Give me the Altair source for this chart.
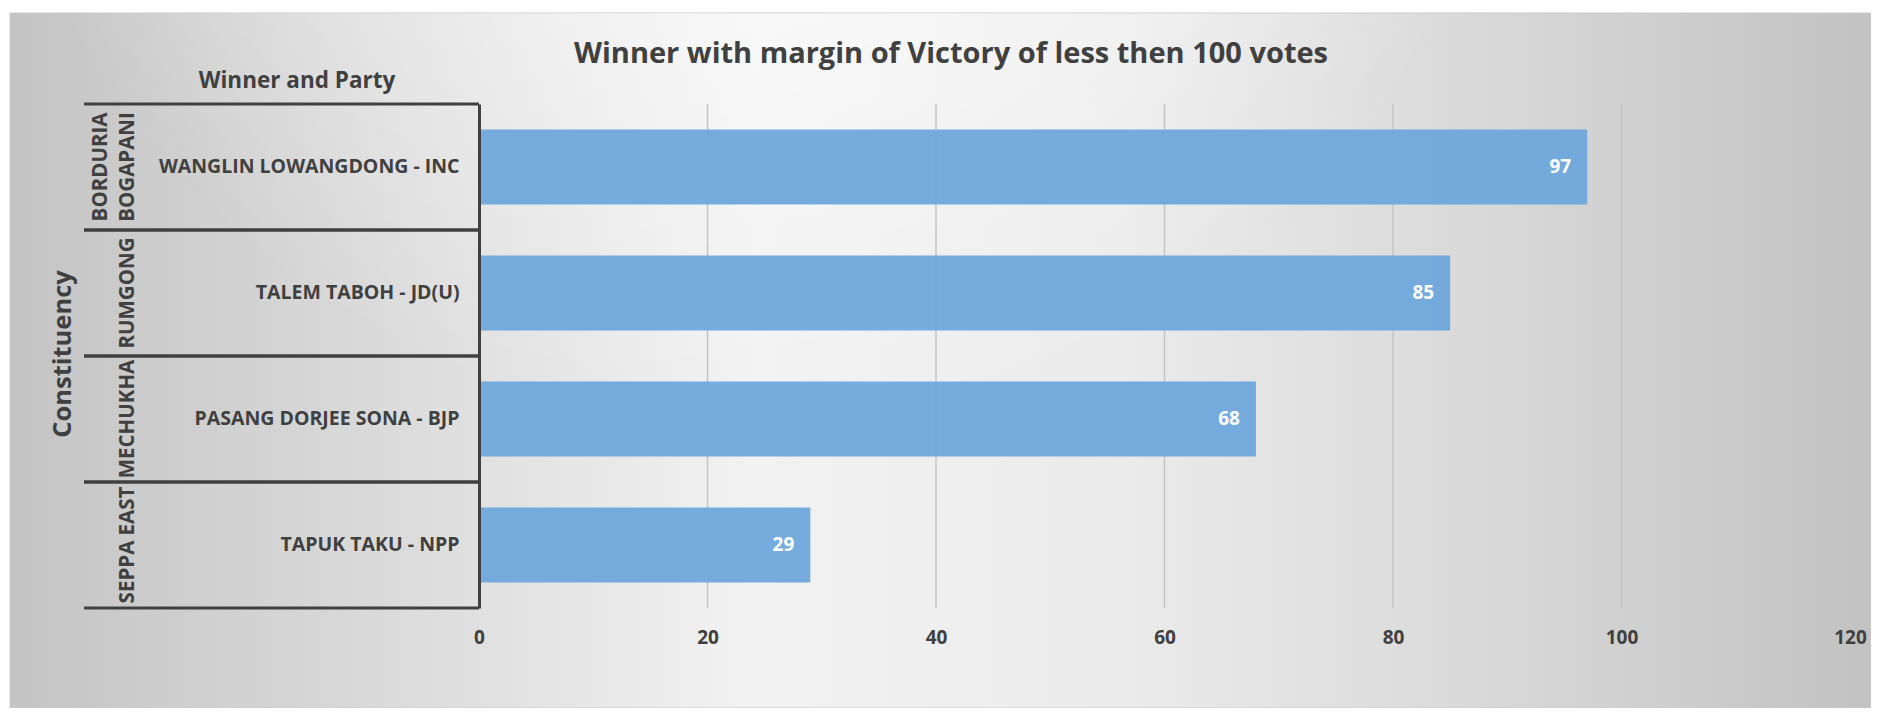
import altair as alt
import pandas as pd

# ---- data ----
constituencies = ["BORDURIA\nBOGAPANI", "RUMGONG", "MECHUKHA", "SEPPA EAST"]
winners = [
    "WANGLIN LOWANGDONG - INC",
    "TALEM TABOH - JD(U)",
    "PASANG DORJEE SONA - BJP",
    "TAPUK TAKU - NPP",
]
margins = [97, 85, 68, 29]
x_ticks = [0, 20, 40, 60, 80, 100, 120]
chart_title = "Winner with margin of Victory of less then 100 votes"
column_header = "Winner and Party"
row_header = "Constituency"

df = pd.DataFrame({"constituency": constituencies, "winner": winners, "margin": margins})
grid_df = pd.DataFrame({"tick": x_ticks[1:]})

FONT = "Open Sans"
DARK = "#404040"
W, H = 1371, 504
PAD = {"left": 471, "top": 96, "right": 21, "bottom": 100}

ysc = alt.Scale(paddingInner=0, paddingOuter=0)
xsc = alt.Scale(domain=[0, 120], nice=False)

y_axis = alt.Axis(
    title=None, domain=True, domainColor=DARK, domainWidth=3, ticks=False,
    labelFont=FONT, labelFontSize=19.5, labelFontWeight="bold", labelColor=DARK,
    labelPadding=20, labelLimit=0, grid=False, zindex=2,
)
x_axis = alt.Axis(
    values=x_ticks, title=None, grid=False,
    domain=False, ticks=False, labelFont=FONT, labelFontSize=19,
    labelFontWeight="bold", labelColor=DARK, labelPadding=29,
    labelBaseline="middle", labelFlush=False, labelOverlap=False,
    format="d", zindex=2,
)

x_enc = alt.X("margin:Q", scale=xsc, axis=x_axis)
y_enc = alt.Y("winner:N", sort=None, scale=ysc, axis=y_axis)

bg_linear = {
    "gradient": "linear", "x1": 0, "y1": 0, "x2": 1, "y2": 0,
    "stops": [
        {"offset": 0.0, "color": "#c4c4c4"},
        {"offset": 0.18, "color": "#d8d8d8"},
        {"offset": 0.4, "color": "#f2f2f2"},
        {"offset": 0.6, "color": "#ebebeb"},
        {"offset": 0.8, "color": "#d8d8d8"},
        {"offset": 1.0, "color": "#c2c2c2"},
    ],
}
bg_glow = {
    "gradient": "radial",
    "x1": 0.4, "y1": 0.12, "r1": 0.0,
    "x2": 0.4, "y2": 0.12, "r2": 0.42,
    "stops": [
        {"offset": 0.0, "color": "rgba(255,255,255,0.85)"},
        {"offset": 0.5, "color": "rgba(255,255,255,0.45)"},
        {"offset": 1.0, "color": "rgba(255,255,255,0)"},
    ],
}

bg_pos = dict(x=alt.value(-469), x2=alt.value(W + 21), y=alt.value(-91), y2=alt.value(H + 100))

bg = alt.Chart(alt.Data(values=[{}])).mark_rect(
    fill=bg_linear, stroke="#c8c8c8", strokeWidth=1
).encode(**bg_pos)
glow = alt.Chart(alt.Data(values=[{}])).mark_rect(fill=bg_glow).encode(**bg_pos)

gridlines = alt.Chart(grid_df).mark_rule(color="#c4c4c4", strokeWidth=1.5).encode(
    x=alt.X("tick:Q", scale=xsc, axis=x_axis), y=alt.value(0), y2=alt.value(H)
)

base = alt.Chart(df)

bars = base.mark_bar(size=75, color="#6fa6db", opacity=0.95).encode(x=x_enc, y=y_enc)

rules_top = base.mark_rule(color=DARK, strokeWidth=3).encode(
    y=alt.Y("winner:N", sort=None, scale=ysc, axis=y_axis, bandPosition=0),
    x=alt.value(-395), x2=alt.value(0),
)
rules_bottom = base.mark_rule(color=DARK, strokeWidth=3).encode(
    y=alt.Y("winner:N", sort=None, scale=ysc, axis=y_axis, bandPosition=1),
    x=alt.value(-395), x2=alt.value(0),
)

value_labels = base.mark_text(
    align="right", baseline="middle", dx=-16, color="white",
    font=FONT, fontSize=19, fontWeight="bold",
).encode(x=x_enc, y=y_enc, text="margin:Q")

const_style = dict(
    angle=270, align="center", baseline="bottom", lineBreak="\n", lineHeight=27.5,
    font=FONT, fontSize=20.5, fontWeight="bold", color=DARK,
)
const_single = base.mark_text(**const_style).encode(
    y=y_enc, x=alt.value(-341), text="constituency:N"
).transform_filter("indexof(datum.constituency, '\\n') < 0")
const_multi = base.mark_text(**const_style).encode(
    y=y_enc, x=alt.value(-368.5), text="constituency:N"
).transform_filter("indexof(datum.constituency, '\\n') >= 0")

title_txt = alt.Chart(alt.Data(values=[{"t": chart_title}])).mark_text(
    align="center", baseline="middle", font=FONT, fontSize=29, fontWeight="bold", color=DARK,
).encode(x=alt.value(472), y=alt.value(-50), text="t:N")

header_txt = alt.Chart(alt.Data(values=[{"t": column_header}])).mark_text(
    align="center", baseline="middle", font=FONT, fontSize=22.5, fontWeight="bold", color=DARK,
).encode(x=alt.value(-182), y=alt.value(-23), text="t:N")

row_title_txt = alt.Chart(alt.Data(values=[{"t": row_header}])).mark_text(
    align="center", baseline="middle", angle=270, font=FONT, fontSize=25.5,
    fontWeight="bold", color=DARK,
).encode(x=alt.value(-416), y=alt.value(250), text="t:N")

chart = alt.layer(
    bg, glow, gridlines, bars, rules_top, rules_bottom, value_labels,
    const_single, const_multi, title_txt, header_txt, row_title_txt,
).properties(
    width=W, height=H, padding=PAD, autosize=alt.AutoSizeParams(type="none"),
).configure_view(stroke=None).configure(background="white")

chart.save("out.html", embed_options={"renderer": "svg", "actions": False})
